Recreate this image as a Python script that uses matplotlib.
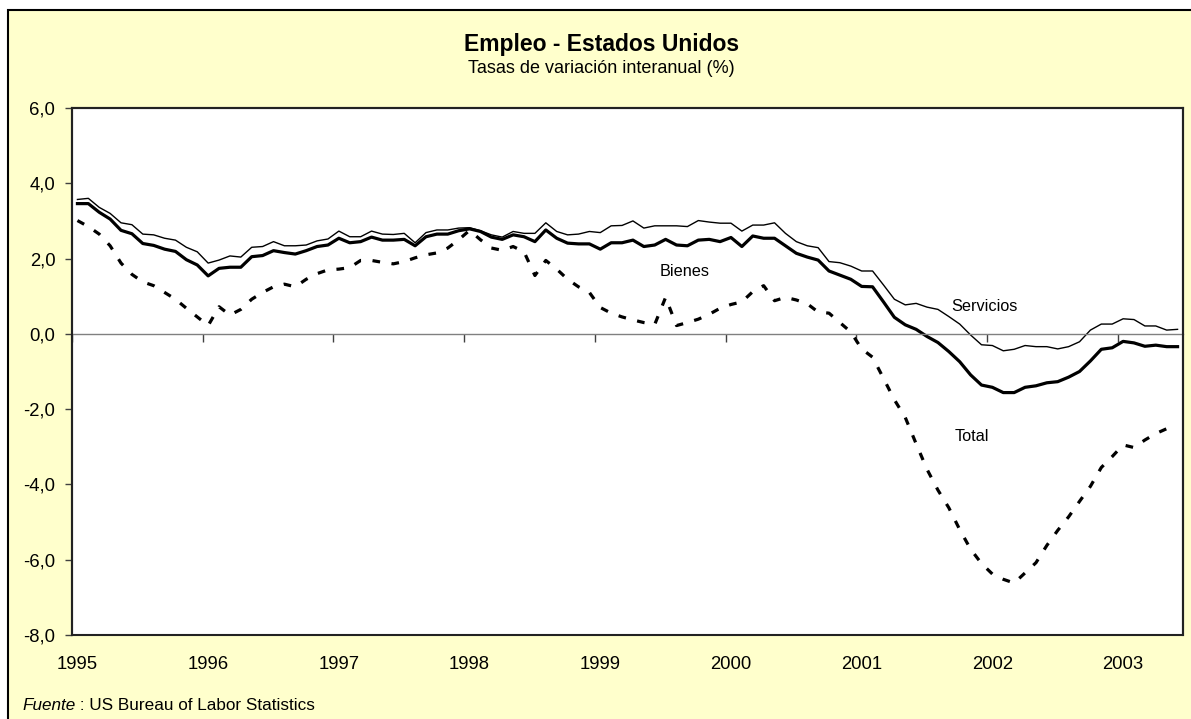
import numpy as np
import matplotlib
matplotlib.use('Agg')
import matplotlib.pyplot as plt
from matplotlib.patches import Rectangle
from matplotlib.ticker import FuncFormatter

plt.rcParams['font.family'] = ['Liberation Sans', 'DejaVu Sans']

# Datos mensuales ene-1995 .. jun-2003 (tasas interanuales, %)
years = [1995, 1996, 1997, 1998, 1999, 2000, 2001, 2002, 2003]

servicios = [
    3.57, 3.60, 3.36, 3.20, 2.95, 2.90, 2.65, 2.63, 2.54, 2.49, 2.30, 2.18,
    1.88, 1.96, 2.07, 2.04, 2.30, 2.32, 2.45, 2.34, 2.34, 2.36, 2.47, 2.52,
    2.73, 2.58, 2.58, 2.73, 2.65, 2.64, 2.67, 2.42, 2.69, 2.76, 2.76, 2.81,
    2.82, 2.74, 2.63, 2.57, 2.72, 2.67, 2.67, 2.95, 2.72, 2.63, 2.65, 2.72,
    2.69, 2.87, 2.88, 3.00, 2.81, 2.87, 2.87, 2.87, 2.85, 3.01, 2.97, 2.94,
    2.94, 2.73, 2.89, 2.89, 2.95, 2.67, 2.45, 2.34, 2.29, 1.92, 1.89, 1.80,
    1.67, 1.67, 1.30, 0.92, 0.77, 0.81, 0.71, 0.65, 0.46, 0.26, -0.03, -0.29,
    -0.31, -0.45, -0.41, -0.31, -0.34, -0.34, -0.40, -0.34, -0.21, 0.10, 0.26, 0.26,
    0.40, 0.38, 0.21, 0.21, 0.10, 0.12,
]

total = [
    3.46, 3.46, 3.23, 3.05, 2.75, 2.66, 2.40, 2.35, 2.25, 2.19, 1.97, 1.83,
    1.54, 1.74, 1.77, 1.77, 2.05, 2.08, 2.21, 2.16, 2.12, 2.21, 2.32, 2.36,
    2.54, 2.42, 2.45, 2.57, 2.49, 2.49, 2.51, 2.34, 2.58, 2.65, 2.65, 2.74,
    2.79, 2.72, 2.57, 2.51, 2.63, 2.58, 2.45, 2.76, 2.54, 2.41, 2.39, 2.39,
    2.25, 2.42, 2.42, 2.49, 2.32, 2.36, 2.51, 2.36, 2.34, 2.49, 2.51, 2.45,
    2.56, 2.32, 2.60, 2.54, 2.54, 2.34, 2.14, 2.04, 1.96, 1.67, 1.56, 1.45,
    1.26, 1.25, 0.85, 0.44, 0.24, 0.12, -0.07, -0.23, -0.47, -0.74, -1.09, -1.36,
    -1.42, -1.56, -1.56, -1.42, -1.38, -1.30, -1.27, -1.15, -1.00, -0.72, -0.41, -0.37,
    -0.20, -0.24, -0.33, -0.30, -0.34, -0.34,
]

bienes = [
    3.01, 2.85, 2.65, 2.34, 1.88, 1.58, 1.38, 1.28, 1.10, 0.92, 0.68, 0.45,
    0.22, 0.72, 0.50, 0.65, 0.92, 1.10, 1.25, 1.32, 1.25, 1.45, 1.60, 1.70,
    1.72, 1.76, 1.95, 1.95, 1.90, 1.86, 1.92, 2.02, 2.10, 2.15, 2.28, 2.50,
    2.75, 2.50, 2.28, 2.22, 2.32, 2.18, 1.55, 1.95, 1.72, 1.45, 1.25, 1.10,
    0.70, 0.55, 0.45, 0.37, 0.30, 0.25, 0.97, 0.22, 0.30, 0.39, 0.52, 0.68,
    0.78, 0.85, 1.12, 1.28, 0.88, 0.97, 0.90, 0.80, 0.58, 0.55, 0.30, 0.05,
    -0.40, -0.62, -1.18, -1.75, -2.22, -2.92, -3.60, -4.15, -4.62, -5.20, -5.72, -6.10,
    -6.38, -6.52, -6.62, -6.35, -6.08, -5.62, -5.22, -4.86, -4.45, -4.05, -3.55, -3.26,
    -2.95, -3.02, -2.82, -2.65, -2.52, -2.57,
]

n = len(total)
x = np.arange(n) + 0.5   # cada mes centrado en su categoria

fig = plt.figure(figsize=(11.91, 7.19), dpi=100, facecolor='white')
# marco amarillo del grafico
fig.patches.append(Rectangle((8 / 1191, -0.1), 1.2, 1 - 10 / 719 + 0.1,
                             transform=fig.transFigure, facecolor='#FFFFCC',
                             edgecolor='black', linewidth=1.5, zorder=-10))

ax = fig.add_axes([72 / 1191, 1 - 635 / 719, (1183 - 72) / 1191, 527 / 719])
ax.set_facecolor('white')

ax.plot(x, servicios, color='black', linewidth=1.0)
ax.plot(x, total, color='black', linewidth=2.3)
ax.plot(x, bienes, color='black', linewidth=2.3, linestyle=(0, (2.4, 3.6)),
        dash_capstyle='butt')

ax.set_xlim(0, n)
ax.set_ylim(-8, 6)

# eje x sobre la linea de cero
ax.spines['bottom'].set_position(('data', 0))
ax.spines['bottom'].set_color('#808080')
ax.spines['bottom'].set_linewidth(1.0)
for s in ['left', 'top', 'right']:
    ax.spines[s].set_linewidth(1.5)
    ax.spines[s].set_color('#222222')
ax.add_patch(Rectangle((0, 0), 1, 1, transform=ax.transAxes, fill=False,
                       edgecolor='#222222', linewidth=1.5, clip_on=False, zorder=5))

ax.set_xticks(np.arange(0, n, 12))
ax.set_xticklabels([])
ax.tick_params(axis='x', direction='out', length=6, width=1, color='#404040')
for i, yr in enumerate(years):
    ax.annotate(str(yr), xy=(i * 12 + 0.5, 0), xycoords=('data', 'axes fraction'),
                xytext=(0, -15), textcoords='offset points',
                ha='center', va='top', fontsize=13.3)

ax.set_yticks(np.arange(-8, 7, 2))
ax.yaxis.set_major_formatter(FuncFormatter(lambda v, _: f'{v:.1f}'.replace('.', ',')))
ax.tick_params(axis='y', direction='out', length=5, width=1, color='#404040',
               labelsize=13.3, pad=7)

ax.text(56.2, 1.65, 'Bienes', ha='center', va='center', fontsize=11.7)
ax.text(83.8, 0.74, 'Servicios', ha='center', va='center', fontsize=11.7)
ax.text(82.6, -2.73, 'Total', ha='center', va='center', fontsize=11.7)

fig.text(0.505, 1 - 50.7 / 719, 'Empleo - Estados Unidos', ha='center',
         va='baseline', fontsize=16.5, fontweight='bold')
fig.text(0.505, 1 - 73.3 / 719, 'Tasas de variación interanual (%)', ha='center',
         va='baseline', fontsize=13)

t1 = fig.text(22 / 1191, 1 - 710 / 719, 'Fuente', fontstyle='italic',
              fontsize=12.3, va='baseline')
ax.annotate(' : US Bureau of Labor Statistics', xy=(1, 0), xycoords=t1,
            va='bottom', ha='left', fontsize=12.3)

fig.savefig('out.png', dpi=100, facecolor='white')
